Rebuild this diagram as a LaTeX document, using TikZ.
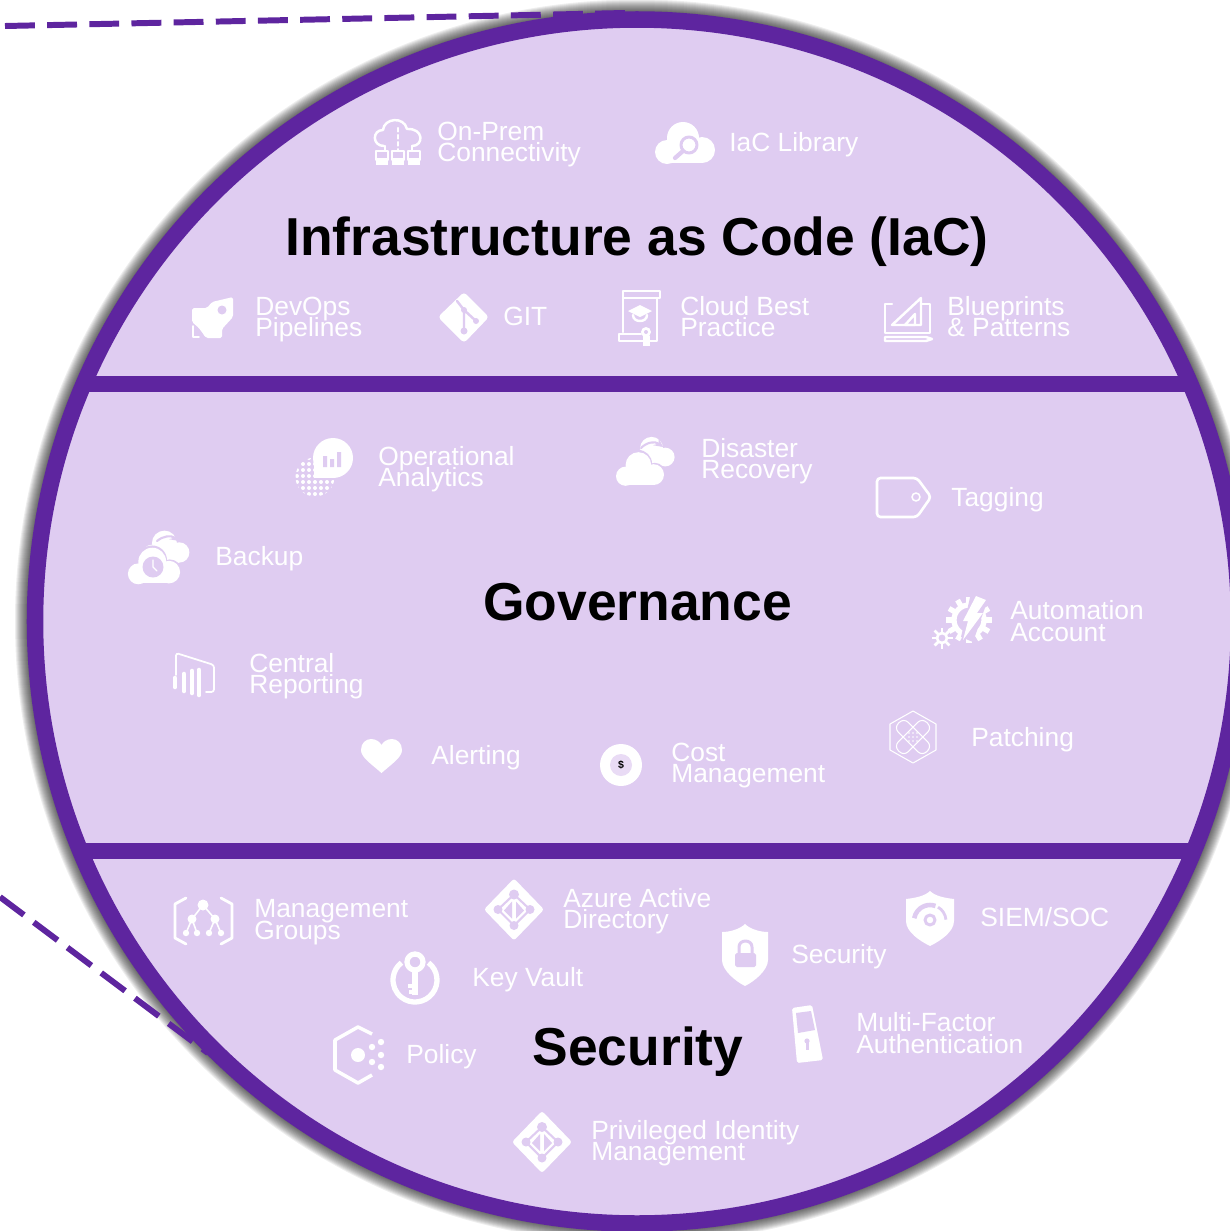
\documentclass[tikz,border=0pt]{standalone}
\usepackage{fontspec}
\setmainfont{Liberation Sans}
\setlength{\lineskiplimit}{-20pt}
\definecolor{ringcol}{HTML}{5E259F}
\definecolor{lilac}{HTML}{DFCCF1}
\tikzset{
  ringline/.style={draw=ringcol, line width=9.4pt},
  dashline/.style={draw=ringcol, line width=3.4pt, dash pattern=on 17pt off 7pt},
  lbl/.style={anchor=west, inner sep=0pt, yshift=-0.06cm, text=white, align=left, font=\fontsize{15}{12.2}\selectfont},
  heading/.style={inner sep=0pt, text=black, font=\fontsize{30.4}{36}\selectfont\bfseries},
  iconline/.style={draw=white, line width=1.4pt, line join=round, line cap=round},
  cutline/.style={draw=lilac, line width=1.2pt, line join=round, line cap=round},
  pics/cloudicon/.style={code={
    \fill[#1] (-18,9) circle (12);
    \fill[#1] (-2,-5) circle (16);
    \fill[#1] (17,7) circle (13);
    \fill[#1] (-18,8) rectangle (17,20);
  }},
  pics/adicon/.style={code={
    \fill[white, rounded corners=1.5pt] (0,-31) -- (30,0) -- (0,31) -- (-30,0) -- cycle;
    \draw[cutline] (0,-15) -- (-16,0) -- (0,16) -- (16,0) -- cycle;
    \fill[lilac] (0,-15) circle (5) (-16,0) circle (4.5) (16,0) circle (4.5) (0,16) circle (4.5);
    \fill[lilac] (-2,-8) -- (-2,9) -- (-10,1) -- cycle;
    \fill[lilac] (2,-8) -- (2,9) -- (10,1) -- cycle;
  }},
}
\begin{document}
\begin{tikzpicture}[x=0.02cm,y=-0.02cm]
\useasboundingbox (0,0) rectangle (1230,1231);
\clip (0,0) rectangle (1230,1231);
% soft edge round the disc
\foreach \r in {622,621,...,611} {
  \fill[black, opacity=0.065] (637,621.5) circle (\r);
}
\draw[ringline, fill=lilac] (637,621.5) circle (602);
\draw[ringline] (84,384) -- (1190,384);
\draw[ringline] (80,851) -- (1194,851);
% dashed lines going off to the left
\coordinate (topstart) at (5,26);
\coordinate (topend) at (625,13);
\coordinate (lowstart) at (0,897);
\coordinate (lowend) at (208,1053);
\draw[dashline] (topstart) -- (topend);
\draw[dashline] (lowstart) -- (lowend);
% headings
\node[heading] (iac) at (637,242) {Infrastructure as Code (IaC)};
\node[heading] (gov) at (637.5,602) {Governance};
\node[heading] (sec) at (638,1052) {Security};
% labels
\node[lbl] (onprem) at (437,141.5) {On-Prem\\Connectivity};
\node[lbl] (library) at (729,142) {IaC Library};
\node[lbl] (devops) at (255,316.5) {DevOps\\Pipelines};
\node[lbl] (git) at (503,313) {GIT};
\node[lbl] (bestpractice) at (680,313.5) {Cloud Best\\Practice};
\node[lbl] (blueprints) at (947,313.5) {Blueprints\\\& Patterns};
\node[lbl] (analytics) at (378,466) {Operational\\Analytics};
\node[lbl] (recovery) at (701,458) {Disaster\\Recovery};
\node[lbl] (tagging) at (951,496.5) {Tagging};
\node[lbl] (backup) at (215,556) {Backup};
\node[lbl] (automation) at (1010,618) {Automation\\Account};
\node[lbl] (reporting) at (249,673) {Central\\Reporting};
\node[lbl] (alerting) at (431,755) {Alerting};
\node[lbl] (cost) at (671,762.5) {Cost\\Management};
\node[lbl] (patching) at (971,736.5) {Patching};
\node[lbl] (mgmtgroups) at (254,919) {Management\\Groups};
\node[lbl] (aad) at (563,908) {Azure Active\\Directory};
\node[lbl] (security) at (791,954) {Security};
\node[lbl] (siem) at (980,914) {SIEM/SOC};
\node[lbl] (keyvault) at (472,977) {Key Vault};
\node[lbl] (policy) at (406,1054) {Policy};
\node[lbl] (mfa) at (856,1030) {Multi-Factor\\Authentication};
\node[lbl] (pim) at (591,1140) {Privileged Identity\\Management};
% on-prem icon
\draw[iconline] (384,146) .. controls (372,146) and (372,130) .. (383,130) .. controls (384,118) and (404,116) .. (407,129) .. controls (424,128) and (424,146) .. (412,146);
\draw[iconline, dash pattern=on 2pt off 2pt] (398,128) -- (398,150);
\draw[iconline] (385,146) -- (385,150) (412,146) -- (412,150);
\foreach \x in {376,392,408} {
  \draw[iconline] (\x,151) rectangle (\x+12,160);
  \fill[white] (\x,158) rectangle (\x+12,165);
}
% library icon
\pic at (685,143) {cloudicon=white};
\draw[cutline, line width=1.7pt] (689,145) circle (8);
\draw[cutline, line width=2.4pt] (683,151) -- (675,158);
% devops icon
\fill[white, rounded corners=1pt] (212,302) -- (233,297) -- (233,317) -- (222,329) -- (222,338) -- (206,338) -- (199,328) -- (192,322) -- (192,308) -- (207,308) -- cycle;
\fill[lilac] (222,310) circle (4.5);
\fill[lilac] (192,323) -- (202,333) -- (206,339) -- (192,339) -- cycle;
\draw[iconline, line width=1pt] (193,326) -- (193,337) -- (199,337);
% git icon
\fill[white, rounded corners=2pt] (464,292) -- (489,317) -- (464,343) -- (438,317) -- cycle;
\draw[cutline, line width=1.4pt] (457,301) -- (464,310) -- (464,331) (464,310) -- (476,321);
\fill[lilac] (464,310) circle (3) (464,331) circle (3.5) (476,321) circle (3);
% best practice icon
\draw[iconline] (623,332) -- (623,291) -- (660,291) -- (660,298) -- (623,298);
\draw[iconline] (657,298) -- (657,341) -- (619,341) -- (619,334) -- (641,334);
\fill[white] (628,311) -- (640,305) -- (652,311) -- (640,317) -- cycle;
\draw[iconline] (633,315) .. controls (633,323) and (647,323) .. (647,315);
\fill[white] (646,332) circle (5);
\fill[lilac] (646,332) circle (2);
\fill[white] (643,336) rectangle (650,346);
% blueprints icon
\draw[iconline] (892,304) -- (885,304) -- (885,333) -- (930,333) -- (930,304) -- (922,304);
\draw[iconline] (892,325) -- (921,298) -- (921,325) -- cycle;
\draw[iconline] (905,325) -- (915,314) -- (915,325) -- cycle;
\draw[iconline] (885,337) -- (926,337) -- (932,339) -- (926,341) -- (885,341) -- cycle;
% analytics icon
\begin{scope}
\clip (315,477) circle (19.5);
\foreach \x in {0,...,6} {
  \foreach \y in {0,...,6} {
    \fill[white] ({297+6*\x},{458+6*\y}) circle (2);
  }
}
\end{scope}
\fill[white] (333,458) circle (20);
\fill[white] (314,458) rectangle (333,478);
\fill[lilac] (323,456) rectangle (327,467) (330,459) rectangle (334,467) (337,452) rectangle (341,467);
% recovery icon
\pic[scale=0.72] at (653,452) {cloudicon=white};
\pic[scale=0.86] at (640,468) {cloudicon=lilac};
\pic[scale=0.8] at (640,469) {cloudicon=white};
\draw[cutline, -stealth] (641,448) .. controls (647,442) and (655,441) .. (663,447);
% tagging icon
\draw[iconline, line width=1.5pt, rounded corners=2pt] (877,478) -- (917,478) -- (931,497) -- (917,517) -- (877,517) -- cycle;
\draw[iconline, line width=0.9pt] (916,497) circle (4);
% backup icon
\pic[scale=0.78] at (166,547) {cloudicon=white};
\pic[scale=0.93] at (154,565) {cloudicon=lilac};
\pic[scale=0.87] at (154,566) {cloudicon=white};
\fill[lilac] (153,567) circle (10.5);
\draw[iconline, line width=0.7pt] (153,560) -- (153,567) -- (157,571);
\draw[cutline, -stealth] (157,541) .. controls (163,536) and (171,535) .. (179,541);
% automation icon
\foreach \a in {0,30,...,330} {
  \draw[iconline, line width=3pt, line cap=butt] (969,620) ++(\a:15) -- ++(\a:8);
}
\draw[iconline, line width=3pt] (969,620) circle (15);
\fill[lilac] (971,593) -- (988,599) -- (973,642) -- (961,637) -- cycle;
\fill[white] (976,596) -- (986,600) -- (977,613) -- (983,613) -- (963,640) -- (968,621) -- (963,621) -- cycle;
\foreach \a in {0,45,...,315} {
  \draw[iconline, line width=1.6pt, line cap=butt] (942,638) ++(\a:6) -- ++(\a:4.5);
}
\draw[iconline, line width=1.5pt] (942,638) circle (5);
% reporting icon
\draw[iconline, line width=1pt, rounded corners=1.5pt] (176,675) -- (176,653) -- (214,665) -- (214,692) -- (206,692);
\foreach \x/\ytop/\ybot in {175/678/687,184/674/691,192/671/693,199/670/695} {
  \draw[iconline, line width=2.6pt] (\x,\ytop) -- (\x,\ybot);
}
% alerting icon
\fill[white] (381.5,773) .. controls (370,763) and (361,757) .. (361,750) .. controls (361,743) and (366,739) .. (371,739) .. controls (376,739) and (380,742) .. (381.5,745) .. controls (383,742) and (387,739) .. (392,739) .. controls (397,739) and (402,743) .. (402,750) .. controls (402,757) and (393,763) .. (381.5,773) -- cycle;
% cost icon
\fill[white] (621,765) circle (21);
\fill[lilac!70!white] (621,765) circle (11);
\node[inner sep=0pt, text=black, font=\fontsize{6}{7}\selectfont\bfseries] (dollar) at (621,765) {\$};
% patching icon
\draw[iconline, line width=0.6pt] (913,711) -- (936,724) -- (936,750) -- (913,763) -- (890,750) -- (890,724) -- cycle;
\draw[iconline, line width=0.6pt, rounded corners=3.5pt, rotate around={45:(913,737)}] (893,730) rectangle (933,744);
\draw[iconline, line width=0.6pt, rounded corners=3.5pt, rotate around={-45:(913,737)}] (893,730) rectangle (933,744);
\foreach \x in {-4,0,4} {
  \foreach \y in {-4,0,4} {
    \fill[white] ({913+\x},{737+\y}) circle (0.8);
  }
}
% management groups icon
\draw[iconline, line width=1.6pt] (186,898) -- (175,904) -- (175,938) -- (186,944);
\draw[iconline, line width=1.6pt] (221,898) -- (232,904) -- (232,938) -- (221,944);
\draw[iconline, line width=0.9pt] (203,905) -- (192,919) -- (186,933) (192,919) -- (197,933) (203,905) -- (215,919) -- (209,933) (215,919) -- (221,933);
\fill[white] (203,905) circle (5.5) (192,919) circle (4.5) (215,919) circle (4.5);
\fill[white] (186,933) circle (3.2) (197,933) circle (3.2) (209,933) circle (3.2) (221,933) circle (3.2);
% directory and identity icons
\pic at (514,909.5) {adicon};
\pic at (542,1142) {adicon};
% key vault icon
\draw[iconline, line width=3pt, line cap=butt] (415,980) ++(-52:22) arc[start angle=-52, end angle=232, radius=22];
\draw[iconline, line width=3pt] (415,962) circle (8);
\draw[iconline, line width=3.2pt, line cap=butt] (415,971) -- (415,995);
\draw[iconline, line width=2pt, line cap=butt] (415,986) -- (408,986) (415,992) -- (409,992);
% policy icon
\draw[iconline, line width=2pt, line cap=butt] (372,1034) -- (358,1027) -- (335,1040) -- (335,1070) -- (358,1083) -- (372,1075);
\fill[white] (358,1055) circle (7);
\foreach \x/\y in {372/1047,381/1042,381/1055,372/1062,381/1067} {
  \fill[white] (\x,\y) circle (3.2);
}
% security icon
\fill[white] (745,924) .. controls (750,929) and (760,932) .. (768,932) -- (768,960) .. controls (768,970) and (755,981) .. (745,986) .. controls (735,981) and (722,970) .. (722,960) -- (722,932) .. controls (730,932) and (740,929) .. (745,924) -- cycle;
\fill[lilac, rounded corners=1pt] (735,953) rectangle (756,967);
\draw[cutline, line width=1.7pt] (739,953) -- (739,947) .. controls (739,939) and (752,939) .. (752,947) -- (752,953);
% siem icon
\fill[white] (930,891) .. controls (935,896) and (945,898) .. (954,899) -- (954,921) .. controls (954,932) and (940,941) .. (930,946) .. controls (920,941) and (906,932) .. (906,921) -- (906,899) .. controls (915,898) and (925,896) .. (930,891) -- cycle;
\draw[cutline, line width=1.7pt] (930,920) circle (5);
\draw[cutline, line width=2.6pt, line cap=butt] (930,921) ++(190:16) arc[start angle=190, end angle=290, radius=16];
\draw[cutline, line width=1.6pt, line cap=butt] (930,921) ++(300:16) arc[start angle=300, end angle=355, radius=16];
% mfa icon
\fill[white, rounded corners=1pt] (792,1008) -- (812,1005) -- (823,1060) -- (797,1063) -- cycle;
\fill[lilac] (796,1013) -- (811,1011) -- (815,1030) -- (798,1033) -- cycle;
\fill[lilac] (807,1041) circle (2.6);
\fill[lilac] (806,1042) rectangle (808.5,1050);
\end{tikzpicture}
\end{document}
